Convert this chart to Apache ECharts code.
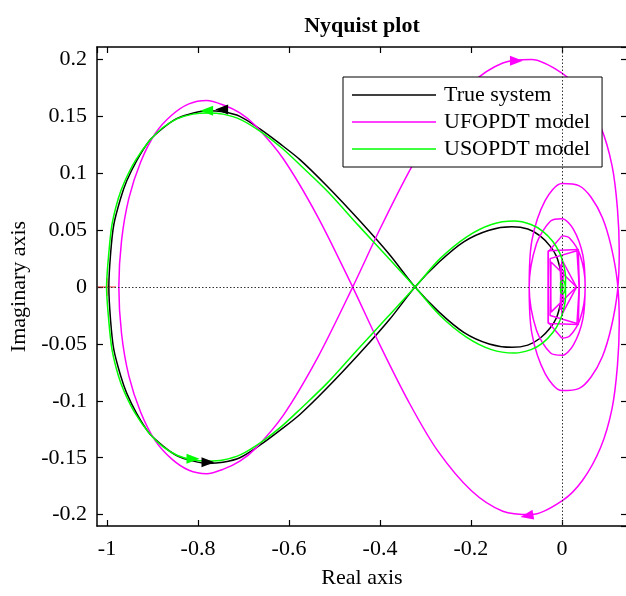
<!DOCTYPE html>
<html>
<head>
<meta charset="utf-8">
<title>Nyquist plot</title>
<script src="https://cdn.jsdelivr.net/npm/echarts@6/dist/echarts.min.js"></script>
<style>
html, body { margin: 0; padding: 0; background: #fff; }
#chart { width: 626px; height: 596px; }
</style>
</head>
<body>
<div id="chart"></div>
<script>
// positive-frequency branches (w = 0 -> inf)
// the negative-frequency branch is the mirror image (complex conjugate)
var trueSystem = [
    [-0.996, 0.000], [-0.992, -0.030], [-0.985, -0.055], [-0.970, -0.078], [-0.957, -0.093],
    [-0.935, -0.111], [-0.906, -0.129], [-0.876, -0.140], [-0.847, -0.148], [-0.810, -0.153],
    [-0.778, -0.155], [-0.745, -0.154], [-0.708, -0.150], [-0.664, -0.139], [-0.620, -0.126],
    [-0.576, -0.112], [-0.517, -0.089], [-0.444, -0.058], [-0.380, -0.029], [-0.323, 0.000],
    [-0.270, 0.022], [-0.215, 0.040], [-0.160, 0.050], [-0.110, 0.053], [-0.075, 0.051],
    [-0.048, 0.045], [-0.026, 0.036], [-0.012, 0.027], [-0.004, 0.016], [0.000, 0.006],
    [0.000, 0.000]
];
var ufopdt = [
    [-0.974, 0.000], [-0.968, -0.041], [-0.952, -0.078], [-0.926, -0.110], [-0.894, -0.135],
    [-0.858, -0.151], [-0.820, -0.161], [-0.781, -0.164], [-0.744, -0.160], [-0.708, -0.153],
    [-0.674, -0.142], [-0.613, -0.113], [-0.537, -0.062], [-0.460, 0.000], [-0.400, 0.051],
    [-0.334, 0.103], [-0.273, 0.144], [-0.199, 0.179], [-0.130, 0.197], [-0.067, 0.200],
    [0.000, 0.188], [0.045, 0.170], [0.085, 0.141], [0.110, 0.107], [0.122, 0.069],
    [0.126, 0.031], [0.122, -0.004], [0.108, -0.036], [0.089, -0.061], [0.064, -0.079],
    [0.038, -0.089], [0.000, -0.091], [-0.037, -0.076], [-0.066, -0.041], [-0.072, 0.000],
    [-0.056, 0.038], [-0.025, 0.058], [0.000, 0.060], [0.025, 0.051], [0.046, 0.028],
    [0.051, -0.002], [0.040, -0.028], [0.017, -0.043], [0.000, -0.045]
];
// coarsely sampled high-frequency loops of the UFOPDT model
var ufopdtInner = [
    [0.000, -0.045], [-0.030, -0.031], [-0.030, 0.032], [0.036, 0.033], [0.038, 0.000],
    [0.033, -0.032], [-0.026, -0.025], [-0.024, 0.022], [0.032, 0.000], [0.000, -0.024],
    [-0.004, 0.020], [0.004, -0.015], [-0.002, 0.010], [0.000, 0.000]
];
var usopdt = [
    [-1.001, 0.000], [-0.996, -0.030], [-0.989, -0.055], [-0.975, -0.078], [-0.961, -0.093],
    [-0.938, -0.111], [-0.908, -0.128], [-0.878, -0.140], [-0.845, -0.148], [-0.811, -0.152],
    [-0.778, -0.153], [-0.745, -0.152], [-0.705, -0.147], [-0.660, -0.136], [-0.615, -0.122],
    [-0.572, -0.106], [-0.515, -0.084], [-0.447, -0.054], [-0.385, -0.027], [-0.323, 0.000],
    [-0.268, 0.025], [-0.210, 0.044], [-0.155, 0.055], [-0.105, 0.058], [-0.068, 0.055],
    [-0.042, 0.049], [-0.020, 0.040], [-0.005, 0.030], [0.004, 0.019], [0.008, 0.008],
    [0.007, -0.002], [0.002, -0.006], [-0.003, -0.004], [-0.003, 0.001], [0.000, 0.003],
    [0.002, 0.001], [0.001, 0.000]
];
// direction arrows: [re, im, rotation]
var trueArrows = [[-0.748, 0.156, 90], [-0.778, -0.154, -90]];
var ufopdtArrows = [[-0.100, 0.199, -90], [-0.077, -0.201, 100]];
var usopdtArrows = [[-0.781, 0.155, 90], [-0.811, -0.151, -90]];
var criticalPoint = [[-1, 0]];

var xRange = [-1.022, 0.143];
var yRange = [-0.21, 0.211];
var names = ['True system', 'UFOPDT model', 'USOPDT model'];
var colors = ['#000000', '#ff00ff', '#00ff00'];

function mirror(pts) {
    return pts.map(function (p) { return [p[0], -p[1]]; }).reverse();
}
function closed(pts) {
    return mirror(pts).concat(pts.slice(1));
}
function arrowData(list) {
    return list.map(function (a) { return { value: [a[0], a[1]], symbolRotate: a[2] }; });
}

var font = 'Liberation Serif';
var fs = 22;
var dom = document.getElementById('chart');
var chart = echarts.init(dom, null, { renderer: 'canvas' });

function lineSeries(name, data, color, smooth) {
    return {
        name: name, type: 'line', data: data, symbol: 'none', smooth: smooth,
        lineStyle: { color: color, width: 1.5 }, itemStyle: { color: color },
        animation: false, z: 3
    };
}
function arrowSeries(name, list, color) {
    return {
        name: name, type: 'scatter', data: arrowData(list), symbol: 'triangle',
        symbolSize: [10, 13], itemStyle: { color: color, opacity: 1 },
        animation: false, silent: true, z: 4
    };
}

function axisCommon(pos, show) {
    return {
        type: 'value', position: pos,
        axisLine: { show: true, onZero: false, lineStyle: { color: '#000', width: 1.5 } },
        axisTick: { show: true, inside: true, length: 6, lineStyle: { color: '#000', width: 1.2 } },
        axisLabel: {
            show: show, color: '#000', fontFamily: font, fontSize: fs, margin: 10,
            showMinLabel: false, showMaxLabel: false
        },
        splitLine: { show: false }
    };
}

var xBottom = axisCommon('bottom', true);
xBottom.min = xRange[0]; xBottom.max = xRange[1];
xBottom.minInterval = 0.2; xBottom.maxInterval = 0.2;
xBottom.axisLabel.margin = 12;
xBottom.name = 'Real axis'; xBottom.nameLocation = 'middle'; xBottom.nameGap = 41;
xBottom.nameTextStyle = { fontFamily: font, fontSize: fs, color: '#000' };
var xTop = axisCommon('top', false);
xTop.min = xRange[0]; xTop.max = xRange[1];
xTop.minInterval = 0.2; xTop.maxInterval = 0.2;

var yLeft = axisCommon('left', true);
yLeft.min = yRange[0]; yLeft.max = yRange[1];
yLeft.minInterval = 0.05; yLeft.maxInterval = 0.05;
yLeft.name = 'Imaginary axis'; yLeft.nameLocation = 'middle'; yLeft.nameGap = 62;
yLeft.nameRotate = 90;
yLeft.nameTextStyle = { fontFamily: font, fontSize: fs, color: '#000' };
var yRight = axisCommon('right', false);
yRight.min = yRange[0]; yRight.max = yRange[1];
yRight.minInterval = 0.05; yRight.maxInterval = 0.05;

var option = {
    backgroundColor: '#fff',
    animation: false,
    title: {
        text: 'Nyquist plot', left: 357, top: 10, textAlign: 'center',
        textStyle: { fontFamily: font, fontSize: fs, fontWeight: 'bold', color: '#000' }
    },
    grid: { left: 97, top: 47, width: 530, height: 479, containLabel: false, outerBoundsMode: 'none' },
    legend: {
        data: names.map(function (n) { return { name: n, icon: 'rect' }; }),
        orient: 'vertical', left: 343, top: 77,
        backgroundColor: '#fff', borderColor: '#000', borderWidth: 1, borderRadius: 0,
        padding: [7, 12, 7, 9], itemWidth: 84, itemHeight: 1.5, itemGap: 5,
        selectedMode: false,
        textStyle: { fontFamily: font, fontSize: fs, color: '#000', padding: [0, 0, 0, 3] }
    },
    xAxis: [xBottom, xTop],
    yAxis: [yLeft, yRight],
    series: [
        {
            name: 'critical', type: 'scatter', data: criticalPoint,
            symbol: 'path://M0,9.4H20V10.6H0Z M9.4,0H10.6V20H9.4Z', symbolSize: 18,
            itemStyle: { color: '#ff0000' }, silent: true, animation: false, z: 1,
            markLine: {
                silent: true, symbol: 'none', animation: false,
                label: { show: false },
                lineStyle: { color: '#333', width: 1, type: [1.5, 2] },
                data: [{ xAxis: 0 }, { yAxis: 0 }]
            }
        },
        lineSeries(names[0], closed(trueSystem), colors[0], 0.3),
        lineSeries(names[1], closed(ufopdt), colors[1], 0.3),
        lineSeries(names[1], ufopdtInner, colors[1], false),
        lineSeries(names[1], mirror(ufopdtInner), colors[1], false),
        lineSeries(names[2], closed(usopdt), colors[2], 0.3),
        arrowSeries('trueArrow', trueArrows, colors[0]),
        arrowSeries('ufopdtArrow', ufopdtArrows, colors[1]),
        arrowSeries('usopdtArrow', usopdtArrows, colors[2])
    ]
};
chart.setOption(option);
window.addEventListener('resize', function () {
    chart.resize();
});
</script>
</body>
</html>
